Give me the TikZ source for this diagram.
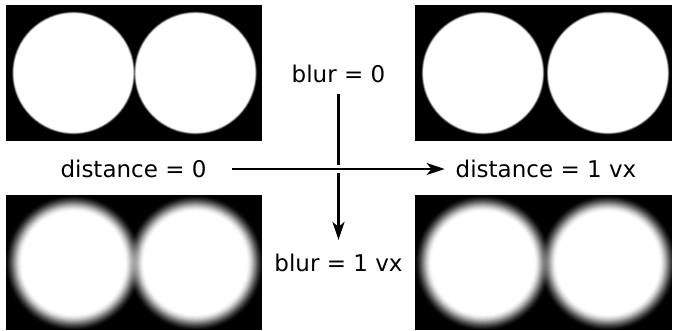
\documentclass[tikz,border=0pt]{standalone}
\usepackage{fontspec}
\setmainfont{DejaVu Sans}
\usetikzlibrary{arrows.meta}
\tikzset{
  fleche/.style={-{Stealth[length=18pt,width=12pt,inset=5pt]},line width=2.2pt},
  etiquette/.style={font=\fontsize{23}{28}\selectfont,inner sep=0pt},
  cadre/.style={fill=black},
}
% disque blanc flou : centre x, centre y, rayon, demi-largeur du flou
\newcommand{\disque}[4]{%
  \foreach \k in {1,...,24}{
    \pgfmathsetmacro{\rr}{#3+#4*(1-(2*\k-1)/24)}
    \pgfmathsetmacro{\ta}{\k/24}
    \pgfmathsetmacro{\tb}{(\k-1)/24}
    \pgfmathsetmacro{\op}{1-(1-3*\ta*\ta+2*\ta*\ta*\ta)/(1-3*\tb*\tb+2*\tb*\tb*\tb)}
    \fill[white,opacity=\op] (#1,#2) circle[radius=\rr pt];
  }}
\begin{document}
\begin{tikzpicture}[x=1pt,y=-1pt]
  \useasboundingbox (0,0) rectangle (673,330);
  % les quatre images
  \fill[cadre] (6,5) rectangle (262,141);
  \fill[cadre] (415,5) rectangle (672,141);
  \fill[cadre] (6,195) rectangle (262,330);
  \fill[cadre] (415,195) rectangle (672,330);
  \disque{73.5}{73}{60.5}{1.5}  \disque{195.5}{73}{60.5}{1.5}
  \disque{483}{73}{60.5}{1.5}   \disque{608}{73}{60.5}{1.5}
  \disque{73.5}{263}{60}{9}     \disque{195.5}{263}{60}{9}
  \disque{483}{263}{60}{9}      \disque{608}{263}{60}{9}
  % legendes
  \node[etiquette] (d0) at (133.5,169) {distance = 0};
  \node[etiquette] (d1) at (546,169) {distance = 1 vx};
  \node[etiquette] (b0) at (338.5,74) {blur = 0};
  \node[etiquette] (b1) at (338.5,263) {blur = 1 vx};
  \draw[fleche,shorten <=11pt,shorten >=14pt] (b0.south) -- (b1.north);
  \draw[fleche,shorten <=25pt,shorten >=11pt,
        preaction={draw=white,line width=8pt,-}] (d0.east) -- (d1.west);
\end{tikzpicture}
\end{document}
